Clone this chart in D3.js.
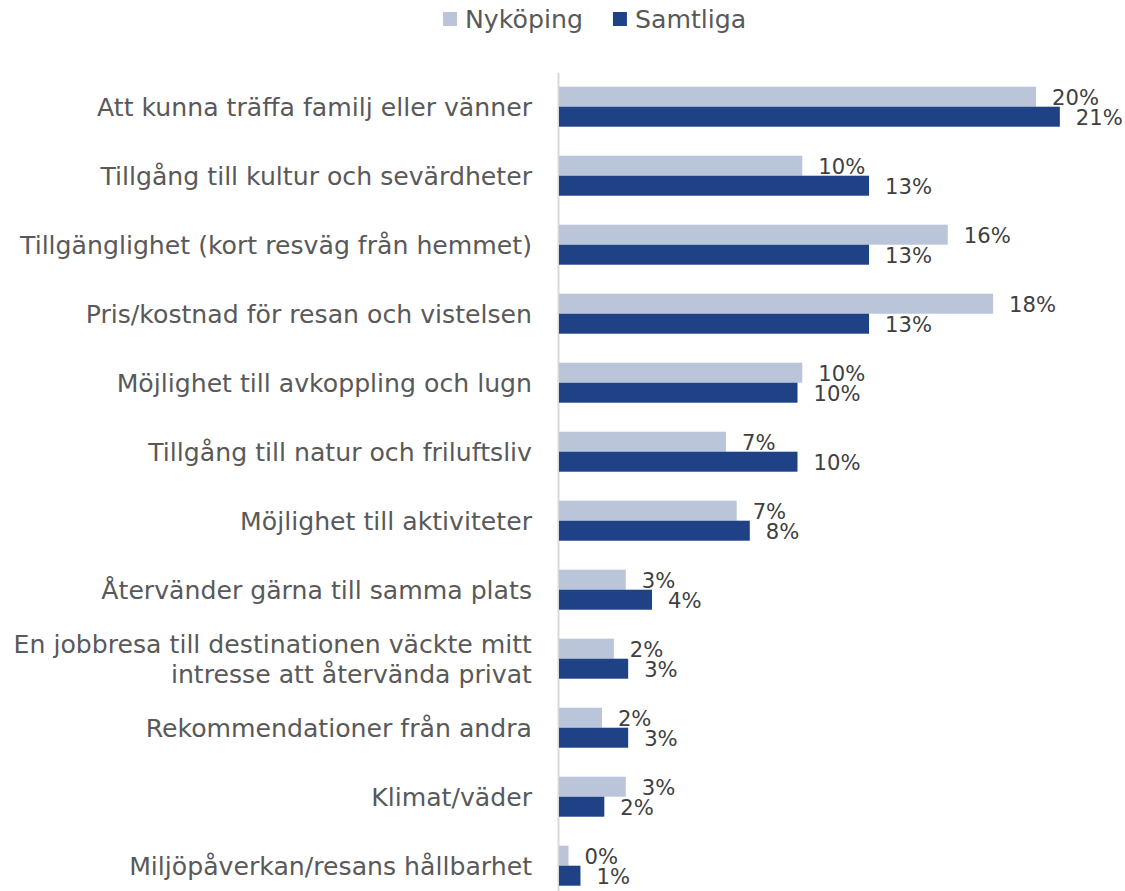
<!DOCTYPE html>
<html><head><meta charset="utf-8">
<script src="https://cdn.jsdelivr.net/npm/d3@7"></script>
<style>body{margin:0;background:#fff} svg{display:block}</style>
</head><body><svg id="c" width="1125" height="891"></svg>
<script>
const categories = [
  "Att kunna träffa familj eller vänner",
  "Tillgång till kultur och sevärdheter",
  "Tillgänglighet (kort resväg från hemmet)",
  "Pris/kostnad för resan och vistelsen",
  "Möjlighet till avkoppling och lugn",
  "Tillgång till natur och friluftsliv",
  "Möjlighet till aktiviteter",
  "Återvänder gärna till samma plats",
  "En jobbresa till destinationen väckte mitt\nintresse att återvända privat",
  "Rekommendationer från andra",
  "Klimat/väder",
  "Miljöpåverkan/resans hållbarhet"
];
const seriesNames = ["Nyköping", "Samtliga"];
const nykoping = [20.0, 10.2, 16.3, 18.2, 10.2, 7.0, 7.45, 2.8, 2.3, 1.8, 2.8, 0.4];
const samtliga = [21.0, 13.0, 13.0, 13.0, 10.0, 10.0, 8.0, 3.9, 2.9, 2.9, 1.9, 0.9];
const colors = ["#BAC5DA", "#1F4287"];

const svg = d3.select("#c");
const FONT = "'DejaVu Sans', sans-serif";

function fitSize(text, target) {
  const t = svg.append("text").attr("font-family", FONT).attr("font-size", 100).text(text);
  const w = t.node().getComputedTextLength();
  t.remove();
  return 100 * target / w;
}
const catSize = fitSize(categories[0], 435);
const lblSize = fitSize("20%", 47);
const legSize = fitSize("Nyköping", 118);

const x = d3.scaleLinear().domain([0, 25]).range([559, 559 + 25 * 23.85]);
const y = d3.scaleBand().domain(categories).range([72.2, 900.2]).paddingInner(0.42).paddingOuter(0.21);
const ySub = d3.scaleBand().domain(seriesNames).range([0, y.bandwidth()]);

const rows = categories.map((c, i) => ({ cat: c, vals: [nykoping[i], samtliga[i]] }));

// axis
const axis = svg.append("g").attr("transform", "translate(558,0)")
  .call(d3.axisLeft(y).tickSize(0).tickPadding(26));
axis.select(".domain").attr("stroke", "#d9d9d9").attr("stroke-width", 2);
axis.selectAll(".tick text")
  .attr("font-family", FONT).attr("font-size", catSize).attr("fill", "#595959")
  .each(function(d) {
    const lines = d.split("\n");
    const t = d3.select(this).text(null).attr("dy", null).attr("dominant-baseline", "central");
    const lh = 30;
    lines.forEach((ln, k) => {
      t.append("tspan").attr("x", -26).attr("y", (k - (lines.length - 1) / 2) * lh).text(ln);
    });
  });

// bars
const g = svg.append("g").selectAll("g").data(rows).join("g")
  .attr("transform", d => `translate(0,${y(d.cat)})`);
g.selectAll("rect").data(d => d.vals.map((v, k) => ({ v, s: seriesNames[k], k }))).join("rect")
  .attr("x", x(0)).attr("y", d => ySub(d.s))
  .attr("width", d => x(d.v) - x(0)).attr("height", ySub.bandwidth())
  .attr("fill", d => colors[d.k]);
g.selectAll("text").data(d => d.vals.map((v, k) => ({ v, s: seriesNames[k], k }))).join("text")
  .attr("x", d => x(d.v) + 16).attr("y", d => ySub(d.s) + ySub.bandwidth() / 2 + 1)
  .attr("dominant-baseline", "central")
  .attr("font-family", FONT).attr("font-size", lblSize).attr("fill", "#404040")
  .text(d => d3.format(".0f")(d.v) + "%");

// legend
const leg = svg.append("g");
let lx = 443;
seriesNames.forEach((s, k) => {
  leg.append("rect").attr("x", lx).attr("y", 12).attr("width", 14).attr("height", 14).attr("fill", colors[k]);
  const t = leg.append("text").attr("x", lx + 22).attr("y", 19).attr("dominant-baseline", "central")
    .attr("font-family", FONT).attr("font-size", legSize).attr("fill", "#595959").text(s);
  lx = lx + 22 + t.node().getComputedTextLength() + 30;
});
</script>
</body></html>
